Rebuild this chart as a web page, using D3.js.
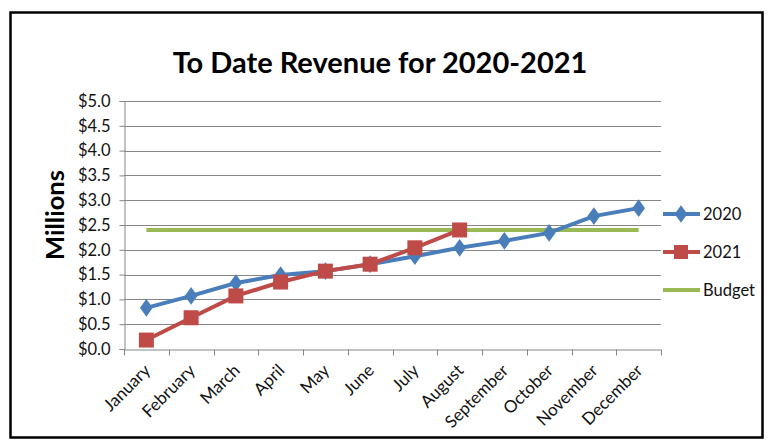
<!DOCTYPE html>
<html><head><meta charset="utf-8">
<script src="https://cdn.jsdelivr.net/npm/d3@7"></script>
<style>body{margin:0;background:#fff}svg{display:block}</style>
</head><body>
<svg id="c" width="771" height="441"></svg>
<script>
const months = ["January","February","March","April","May","June","July","August","September","October","November","December"];
const values2020 = [0.83,1.07,1.33,1.49,1.57,1.71,1.87,2.04,2.18,2.34,2.68,2.84];
const values2021 = [0.18,0.63,1.07,1.35,1.57,1.71,2.04,2.40];
const budget = [2.4,2.4,2.4,2.4,2.4,2.4,2.4,2.4,2.4,2.4,2.4,2.4];
const yTicks = [0,0.5,1,1.5,2,2.5,3,3.5,4,4.5,5];

const svg = d3.select("#c");
const font = "Lato, 'Open Sans', sans-serif";
const L=124, R=661, T=101, B=349;
const x = d3.scaleBand().domain(months).range([L,R]);
const y = d3.scaleLinear().domain([0,5]).range([B,T]);
const cx = d => x(d)+x.bandwidth()/2;

svg.append("rect").attr("x",10.5).attr("y",12.5).attr("width",752).attr("height",425)
  .attr("fill","#fff").attr("stroke","#000").attr("stroke-width",2.5);

svg.append("text").attr("x",380).attr("y",73).attr("text-anchor","middle")
  .attr("font-family",font).attr("font-weight","bold").attr("font-size",29)
  .attr("fill","#000").text("To Date Revenue for 2020-2021");

// gridlines
svg.append("g").selectAll("line").data(yTicks.slice(1)).join("line")
  .attr("x1",L).attr("x2",R).attr("y1",d=>Math.round(y(d))+0.5).attr("y2",d=>Math.round(y(d))+0.5)
  .attr("stroke","#868686").attr("stroke-width",1);

const gy = svg.append("g").attr("transform",`translate(${L+0.5},0)`)
  .call(d3.axisLeft(y).tickValues(yTicks).tickSize(5).tickPadding(9).tickFormat(d=>"$"+d.toFixed(1)));
gy.select(".domain").attr("stroke","#868686");
gy.selectAll(".tick line").attr("stroke","#868686");
gy.selectAll(".tick text").attr("font-family",font).attr("font-size",16.5).attr("fill","#111");

const gx = svg.append("g").attr("transform",`translate(0,${B+0.5})`)
  .call(d3.axisBottom(x).tickSize(0).tickPadding(0));
gx.select(".domain").attr("stroke","#868686");
gx.selectAll(".tick text").attr("font-family",font).attr("font-size",17).attr("fill","#111")
  .attr("text-anchor","end").attr("dy",0)
  .attr("transform","translate(5,22) rotate(-45)");
// boundary ticks
const bounds = months.map(m=>x(m)).concat([R]);
gx.append("g").selectAll("line").data(bounds).join("line")
  .attr("x1",d=>Math.round(d)+0.5).attr("x2",d=>Math.round(d)+0.5).attr("y1",0).attr("y2",6)
  .attr("stroke","#868686");

svg.append("text").attr("transform",`translate(64,215) rotate(-90)`).attr("text-anchor","middle")
  .attr("font-family",font).attr("font-weight","bold").attr("font-size",25.5).attr("fill","#000").text("Millions");

const line = d3.line().x((d,i)=>cx(months[i])).y(d=>y(d));
const cB="#98B954", c20="#4A7EBB", c21="#BE4B48";
svg.append("path").attr("d",line(budget)).attr("fill","none").attr("stroke",cB).attr("stroke-width",4);
svg.append("path").attr("d",line(values2020)).attr("fill","none").attr("stroke",c20).attr("stroke-width",4);
svg.append("path").attr("d",line(values2021)).attr("fill","none").attr("stroke",c21).attr("stroke-width",4);

const diamond = d3.symbol().type(d3.symbolDiamond).size(90);
svg.append("g").selectAll("path").data(values2020).join("path")
  .attr("d",diamond).attr("transform",(d,i)=>`translate(${cx(months[i])},${y(d)}) scale(1.25,1)`).attr("fill",c20);
svg.append("g").selectAll("rect").data(values2021).join("rect")
  .attr("x",(d,i)=>cx(months[i])-7.5).attr("y",d=>y(d)-7.5).attr("width",15).attr("height",15).attr("fill",c21);

// legend
const leg = [{n:"2020",c:c20,m:"d",y:214},{n:"2021",c:c21,m:"s",y:252},{n:"Budget",c:cB,m:"n",y:290}];
const lg = svg.append("g");
leg.forEach(l=>{
  lg.append("line").attr("x1",663).attr("x2",700).attr("y1",l.y).attr("y2",l.y).attr("stroke",l.c).attr("stroke-width",4);
  if(l.m==="d") lg.append("path").attr("d",diamond).attr("transform",`translate(681,${l.y}) scale(1.25,1)`).attr("fill",l.c);
  if(l.m==="s") lg.append("rect").attr("x",674).attr("y",l.y-7).attr("width",14).attr("height",14).attr("fill",l.c);
  lg.append("text").attr("x",703).attr("y",l.y+6).attr("font-family",font).attr("font-size",16.5).attr("fill","#111").text(l.n);
});
</script>
</body></html>
